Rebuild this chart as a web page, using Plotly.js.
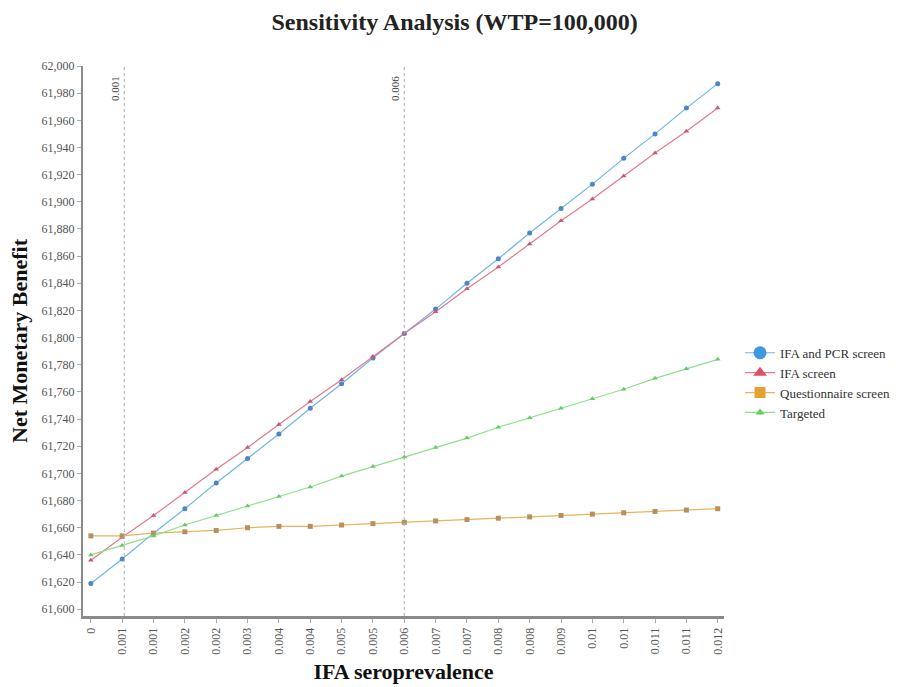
<!DOCTYPE html>
<html>
<head>
<meta charset="utf-8">
<script src="https://cdn.plot.ly/plotly-3.0.1.min.js"></script>
<style>html,body{margin:0;padding:0;background:#fff;}#chart{width:913px;height:687px;}</style>
</head>
<body>
<div id="chart"></div>
<script>
// IFA seroprevalence values (x) and their displayed tick labels
const seroprevalence = [0, 0.0006, 0.0012, 0.0018, 0.0024, 0.003, 0.0036, 0.0042, 0.0048, 0.0054, 0.006,
  0.0066, 0.0072, 0.0078, 0.0084, 0.009, 0.0096, 0.0102, 0.0108, 0.0114, 0.012];
const tickLabels = ["0", "0.001", "0.001", "0.002", "0.002", "0.003", "0.004", "0.004", "0.005", "0.005", "0.006",
  "0.007", "0.007", "0.008", "0.008", "0.009", "0.01", "0.01", "0.011", "0.011", "0.012"];

// Net monetary benefit by strategy
const ifaPcrScreen = [61619, 61637, 61656, 61674, 61693, 61711, 61729, 61748, 61766, 61785, 61803,
  61821, 61840, 61858, 61877, 61895, 61913, 61932, 61950, 61969, 61987];
const ifaScreen = [61636, 61653, 61669, 61686, 61703, 61719, 61736, 61753, 61769, 61786, 61803,
  61819, 61836, 61852, 61869, 61886, 61902, 61919, 61936, 61952, 61969];
const questionnaireScreen = [61654, 61654, 61656, 61657, 61658, 61660, 61661, 61661, 61662, 61663, 61664,
  61665, 61666, 61667, 61668, 61669, 61670, 61671, 61672, 61673, 61674];
const targeted = [61640, 61647, 61654, 61662, 61669, 61676, 61683, 61690, 61698, 61705, 61712,
  61719, 61726, 61734, 61741, 61748, 61755, 61762, 61770, 61777, 61784];

// Threshold markers
const thresholds = [0.00064, 0.006];
const thresholdLabels = ["0.001", "0.006"];

const serif = "Liberation Serif, Times New Roman, serif";

const styles = [
  {name: "IFA and PCR screen", y: ifaPcrScreen, line: "#6fb6e6", marker: "#4a86c8", legendMarker: "#3d9ae0", symbol: "circle", lsize: 13},
  {name: "IFA screen", y: ifaScreen, line: "#e07b8a", marker: "#c25a7a", legendMarker: "#e05068", symbol: "triangle-up", lsize: 12},
  {name: "Questionnaire screen", y: questionnaireScreen, line: "#e6b45a", marker: "#b89060", legendMarker: "#e8a030", symbol: "square", lsize: 11},
  {name: "Targeted", y: targeted, line: "#8ee28e", marker: "#6cc86c", legendMarker: "#5ed05e", symbol: "triangle-up", lsize: 8}
];

const data = [];
styles.forEach(s => {
  data.push({
    type: "scatter", mode: "lines+markers", name: s.name, legendgroup: s.name, showlegend: false,
    x: seroprevalence, y: s.y,
    line: {color: s.line, width: 1.2},
    marker: {color: s.marker, size: 5, symbol: s.symbol}
  });
});
styles.forEach(s => {
  // legend entry only (no data points)
  data.push({
    type: "scatter", mode: "lines+markers", name: s.name, legendgroup: s.name, showlegend: true,
    x: [null], y: [null],
    line: {color: s.line, width: 1.2},
    marker: {color: s.legendMarker, size: s.lsize, symbol: s.symbol}
  });
});

const shapes = thresholds.map(t => ({
  type: "line", xref: "x", yref: "paper", x0: t, x1: t, y0: 0, y1: 1,
  line: {color: "#b0b0b0", width: 1, dash: "dot"}
}));

const annotations = thresholds.map((t, i) => ({
  x: t, xref: "x", y: 0.985, yref: "paper", text: thresholdLabels[i],
  textangle: -90, showarrow: false, xanchor: "right", yanchor: "top", xshift: -2,
  font: {family: serif, size: 11, color: "#444"}
}));

const layout = {
  width: 913, height: 687,
  paper_bgcolor: "#fff", plot_bgcolor: "#fff",
  margin: {l: 83, r: 189, t: 66, b: 71},
  title: {text: "Sensitivity Analysis (WTP=100,000)", x: 0.498, xanchor: "center", y: 0.968, yanchor: "middle",
    font: {family: serif, size: 24, color: "#222", weight: "bold"}},
  xaxis: {
    range: [-0.00015, 0.01212],
    tickmode: "array", tickvals: seroprevalence, ticktext: tickLabels, tickangle: -90,
    showgrid: false, zeroline: false,
    showline: true, linecolor: "#8a8a8a", linewidth: 3,
    ticks: "outside", ticklen: 4, tickcolor: "#aaa",
    tickfont: {family: serif, size: 12, color: "#555"},
    title: {text: "IFA seroprevalence", font: {family: serif, size: 22, color: "#111", weight: "bold"}, standoff: 10},
    automargin: false
  },
  yaxis: {
    range: [61595, 62000], dtick: 20, tick0: 61600,
    tickformat: ",d",
    showgrid: false, zeroline: false,
    showline: true, linecolor: "#8a8a8a", linewidth: 2,
    ticks: "outside", ticklen: 4, tickcolor: "#aaa",
    tickfont: {family: serif, size: 12, color: "#555"},
    title: {text: "Net Monetary Benefit", font: {family: serif, size: 22, color: "#111", weight: "bold"}, standoff: 8},
    automargin: false
  },
  legend: {
    x: 1.025, xanchor: "left", y: 0.424, yanchor: "middle",
    font: {family: serif, size: 13, color: "#333"},
    itemsizing: "trace", tracegroupgap: 0,
    bgcolor: "rgba(0,0,0,0)"
  },
  shapes: shapes,
  annotations: annotations,
  showlegend: true
};

Plotly.newPlot("chart", data, layout, {displayModeBar: false, staticPlot: true});
</script>
</body>
</html>
